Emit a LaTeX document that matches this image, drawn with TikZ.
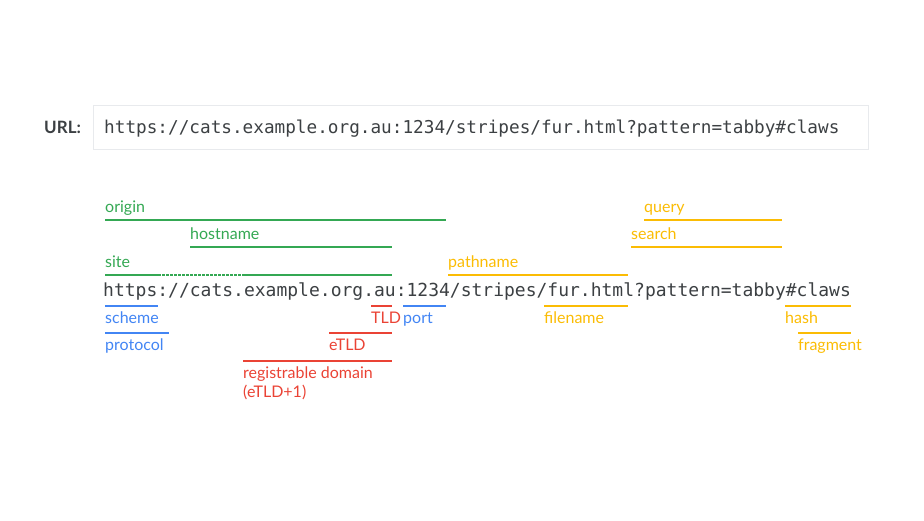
\documentclass[tikz,border=0pt]{standalone}
\usepackage{fontspec}
\newfontfamily\labelfont{Lato}
\newfontfamily\urlfont{DejaVu Sans Mono}
\usetikzlibrary{positioning}
\definecolor{ggreen}{HTML}{34A853}
\definecolor{gblue}{HTML}{4285F4}
\definecolor{gred}{HTML}{EA4335}
\definecolor{gyellow}{HTML}{FBBC04}
\definecolor{ink}{HTML}{3C4043}
\definecolor{boxline}{HTML}{E8EAED}

\begin{document}
\begin{tikzpicture}[x=1pt, y=-1pt,
  tag/.style={anchor=base west, inner sep=0pt, align=left, font=\labelfont\fontsize{16}{19}\selectfont},
  over/.style={yshift=8pt},
  under/.style={yshift=-17pt},
  uline/.style={line width=1.1pt}]
\useasboundingbox (0,0) rectangle (924,520);
% the URL in its box
\node[anchor=base west, inner sep=0pt, text=ink, font=\labelfont\bfseries\fontsize{17}{20}\selectfont] (urlname) at (44,133.5) {URL:};
\node[draw=boxline, line width=1pt, anchor=north west, minimum width=775pt, minimum height=44pt, inner sep=0pt] (urlbox) at (93,105) {};
\node[anchor=base west, inner sep=0pt, text=ink, font=\urlfont\fontsize{17.7}{20}\selectfont] (urltext) at (104,133.5) {https://cats.example.org.au:1234/stripes/fur.html?pattern=tabby\#claws};
% the URL that is taken apart
\node[anchor=base west, inner sep=0pt, text=ink, font=\urlfont\fontsize{18}{20}\selectfont] (full) at (103,296) {https://cats.example.org.au:1234/stripes/fur.html?pattern=tabby\#claws};

% above the URL
\coordinate (origin-a) at (105,220); \coordinate (origin-b) at (446,220);
\coordinate (host-a) at (190,247); \coordinate (host-b) at (392,247);
\coordinate (site-a) at (105,275); \coordinate (site-m) at (158,275);
\coordinate (site-n) at (243,275); \coordinate (site-b) at (392,275);
\coordinate (path-a) at (448,275); \coordinate (path-b) at (628,275);
\coordinate (query-a) at (644,220); \coordinate (query-b) at (782,220);
\coordinate (search-a) at (631,247); \coordinate (search-b) at (782,247);
\draw[uline, ggreen] (origin-a) -- (origin-b);
\draw[uline, ggreen] (host-a) -- (host-b);
\draw[uline, ggreen] (site-a) -- (site-m);
\draw[uline, ggreen, dash pattern=on 2.5pt off 1.5pt] (site-m) -- (site-n);
\draw[uline, ggreen] (site-n) -- (site-b);
\draw[uline, gyellow] (path-a) -- (path-b);
\draw[uline, gyellow] (query-a) -- (query-b);
\draw[uline, gyellow] (search-a) -- (search-b);
\node[tag, over, text=ggreen] (origin) at (origin-a) {origin};
\node[tag, over, text=ggreen] (hostname) at (host-a) {hostname};
\node[tag, over, text=ggreen] (site) at (site-a) {site};
\node[tag, over, text=gyellow] (pathname) at (path-a) {pathname};
\node[tag, over, text=gyellow] (query) at (query-a) {query};
\node[tag, over, text=gyellow] (search) at (search-a) {search};

% below the URL
\coordinate (scheme-a) at (105,306); \coordinate (scheme-b) at (158,306);
\coordinate (proto-a) at (105,333); \coordinate (proto-b) at (169,333);
\coordinate (tld-a) at (371,306); \coordinate (tld-b) at (392,306);
\coordinate (port-a) at (403,306); \coordinate (port-b) at (446,306);
\coordinate (etld-a) at (329,333); \coordinate (etld-b) at (392,333);
\coordinate (reg-a) at (243,361); \coordinate (reg-b) at (392,361);
\coordinate (file-a) at (544,306); \coordinate (file-b) at (628,306);
\coordinate (hash-a) at (785,306); \coordinate (hash-b) at (851,306);
\coordinate (frag-a) at (798,333); \coordinate (frag-b) at (851,333);
\draw[uline, gblue] (scheme-a) -- (scheme-b);
\draw[uline, gblue] (proto-a) -- (proto-b);
\draw[uline, gblue] (port-a) -- (port-b);
\draw[uline, gred] (tld-a) -- (tld-b);
\draw[uline, gred] (etld-a) -- (etld-b);
\draw[uline, gred] (reg-a) -- (reg-b);
\draw[uline, gyellow] (file-a) -- (file-b);
\draw[uline, gyellow] (hash-a) -- (hash-b);
\draw[uline, gyellow] (frag-a) -- (frag-b);
\node[tag, under, text=gblue] (scheme) at (scheme-a) {scheme};
\node[tag, under, text=gblue] (protocol) at (proto-a) {protocol};
\node[tag, under, text=gblue] (port) at (port-a) {port};
\node[tag, under, text=gred] (tld) at (tld-a) {TLD};
\node[tag, under, text=gred] (etld) at (etld-a) {eTLD};
\node[tag, yshift=-36pt, text=gred] (regdomain) at (reg-a) {registrable domain\\(eTLD+1)};
\node[tag, under, text=gyellow] (filename) at (file-a) {filename};
\node[tag, under, text=gyellow] (hash) at (hash-a) {hash};
\node[tag, under, text=gyellow] (fragment) at (frag-a) {fragment};
\end{tikzpicture}
\end{document}
